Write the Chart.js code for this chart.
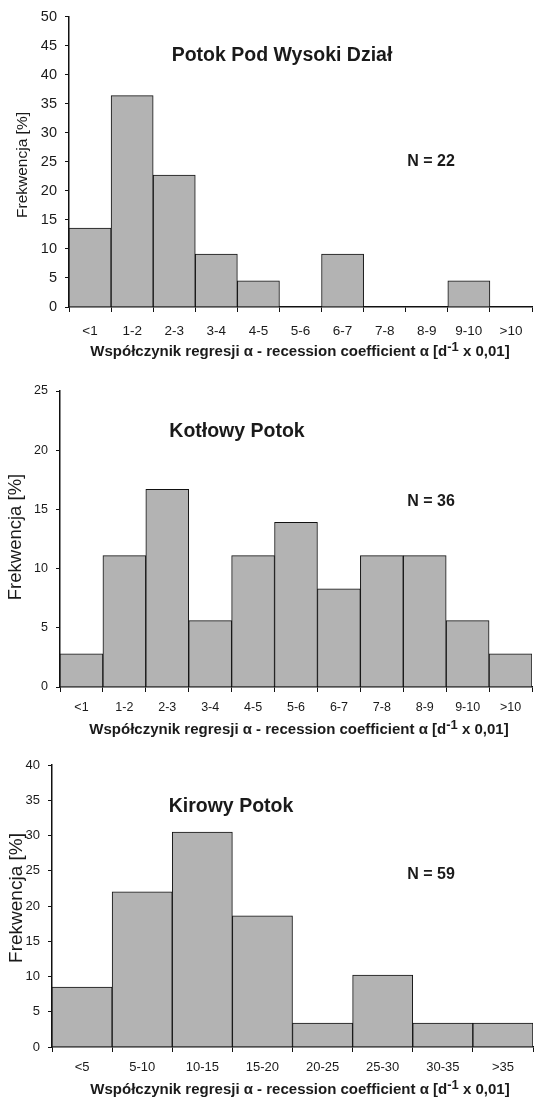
<!DOCTYPE html>
<html>
<head>
<meta charset="utf-8">
<script src="https://cdn.jsdelivr.net/npm/chart.js@4"></script>
<style>
  body { margin: 0; background: #fff; }
  .wrap { position: absolute; left: 0; width: 543px; }
</style>
</head>
<body>
<div class="wrap" style="top:0;height:362px"><canvas id="c1" width="543" height="362"></canvas></div>
<div class="wrap" style="top:362px;height:380px"><canvas id="c2" width="543" height="380"></canvas></div>
<div class="wrap" style="top:742px;height:361px"><canvas id="c3" width="543" height="361"></canvas></div>
<script>
const classes1 = ["<1", "1-2", "2-3", "3-4", "4-5", "5-6", "6-7", "7-8", "8-9", "9-10", ">10"];
const freq1 = [13.6, 36.4, 22.7, 9.1, 4.5, 0, 9.1, 0, 0, 4.5, 0];

const classes2 = ["<1", "1-2", "2-3", "3-4", "4-5", "5-6", "6-7", "7-8", "8-9", "9-10", ">10"];
const freq2 = [2.8, 11.1, 16.7, 5.6, 11.1, 13.9, 8.3, 11.1, 11.1, 5.6, 2.8];

const classes3 = ["<5", "5-10", "10-15", "15-20", "20-25", "25-30", "30-35", ">35"];
const freq3 = [8.5, 22.0, 30.5, 18.6, 3.4, 10.2, 3.4, 3.4];

const FONT = "'Liberation Sans', Arial, sans-serif";
const INK = "#1a1a1a";

// titles, N and axis titles drawn on top
const textPlugin = {
  id: "texts",
  afterDraw(chart, args, o) {
    const ctx = chart.ctx;
    ctx.save();
    ctx.fillStyle = INK;
    ctx.textBaseline = "middle";
    ctx.textAlign = "center";

    ctx.font = "bold 19.5px " + FONT;
    ctx.fillText(o.title, o.titleX, o.titleY);

    ctx.font = "bold 16px " + FONT;
    ctx.fillText(o.n, o.nX, o.nY);

    // y title
    ctx.save();
    ctx.translate(o.yX, o.yY);
    ctx.rotate(-Math.PI / 2);
    ctx.font = o.ySize + "px " + FONT;
    ctx.fillText("Frekwencja [%]", 0, 0);
    ctx.restore();

    // x title with superscript
    const a = "Współczynik regresji α - recession coefficient α [d";
    const sup = "-1";
    const b = " x 0,01]";
    const mainF = "bold 15px " + FONT, supF = "bold 13px " + FONT;
    ctx.font = mainF; const wa = ctx.measureText(a).width, wb = ctx.measureText(b).width;
    ctx.font = supF; const ws = ctx.measureText(sup).width;
    let x = o.xtX - (wa + ws + wb) / 2;
    ctx.textAlign = "left";
    ctx.font = mainF; ctx.fillText(a, x, o.xtY); x += wa;
    ctx.font = supF; ctx.fillText(sup, x, o.xtY - 5); x += ws;
    ctx.font = mainF; ctx.fillText(b, x, o.xtY);
    ctx.restore();
  }
};

function makeChart(id, labels, values, cfg) {
  const canvas = document.getElementById(id);
  return new Chart(canvas, {
    type: "bar",
    data: {
      labels: labels,
      datasets: [{
        data: values,
        backgroundColor: "#b3b3b3",
        borderColor: "#111",
        borderWidth: 1,
        barPercentage: 1,
        categoryPercentage: 1
      }]
    },
    options: {
      responsive: false,
      animation: false,
      layout: { padding: { left: 0, top: cfg.top, right: cfg.right, bottom: 0 } },
      plugins: {
        legend: { display: false },
        tooltip: { enabled: false },
        texts: cfg.texts
      },
      scales: {
        x: {
          grid: { drawOnChartArea: false, color: "#111", tickLength: 5, offset: true },
          border: { color: "#111", width: 1.5 },
          ticks: { color: INK, font: { family: FONT, size: cfg.xSize }, padding: cfg.xPad, maxRotation: 0, autoSkip: false },
          afterFit: (s) => { s.height = cfg.xH; }
        },
        y: {
          min: 0, max: cfg.max,
          grid: { drawOnChartArea: false, color: "#111", tickLength: 4 },
          border: { color: "#111", width: 1.5 },
          ticks: { stepSize: 5, color: INK, font: { family: FONT, size: cfg.ySize }, padding: 8 },
          afterFit: (s) => { s.width = cfg.left; }
        }
      }
    },
    plugins: [textPlugin]
  });
}

makeChart("c1", classes1, freq1, {
  top: 11, right: 11, left: 69, xH: 55, max: 50, xSize: 13.5, ySize: 14.5, xPad: 11,
  texts: { title: "Potok Pod Wysoki Dział", titleX: 282, titleY: 56, n: "N = 22", nX: 431, nY: 162,
           yX: 23, yY: 165, ySize: 15.5, xtX: 300, xtY: 352 }
});

makeChart("c2", classes2, freq2, {
  top: 29, right: 11, left: 60, xH: 55, max: 25, xSize: 12.5, ySize: 12.5, xPad: 8,
  texts: { title: "Kotłowy Potok", titleX: 237, titleY: 70, n: "N = 36", nX: 431, nY: 140,
           yX: 16, yY: 175, ySize: 18.5, xtX: 299, xtY: 368 }
});

makeChart("c3", classes3, freq3, {
  top: 23, right: 10, left: 52, xH: 56, max: 40, xSize: 13, ySize: 13, xPad: 8,
  texts: { title: "Kirowy Potok", titleX: 231, titleY: 65, n: "N = 59", nX: 431, nY: 133,
           yX: 17, yY: 156, ySize: 19, xtX: 300, xtY: 348 }
});
</script>
</body>
</html>
